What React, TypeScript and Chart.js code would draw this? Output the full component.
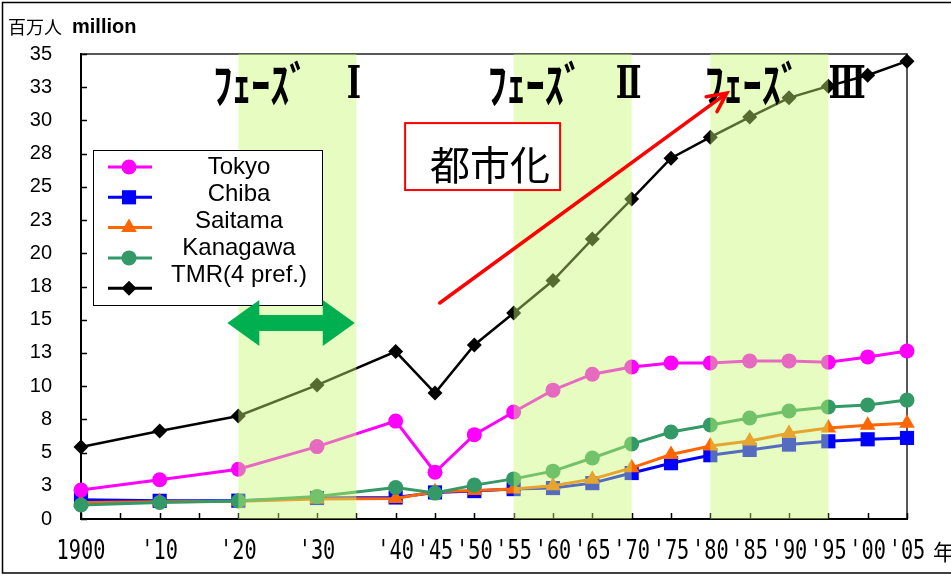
import React, { useEffect, useRef } from "react";
import { Chart, registerables } from "chart.js";

Chart.register(...registerables);

// Census years and population (millions)
const years = [1900, 1910, 1920, 1930, 1940, 1945, 1950, 1955, 1960, 1965, 1970, 1975, 1980, 1985, 1990, 1995, 2000, 2005];
const tokyo = [2.18, 2.95, 3.75, 5.45, 7.37, 3.52, 6.35, 8.05, 9.7, 10.9, 11.44, 11.74, 11.74, 11.9, 11.9, 11.8, 12.2, 12.64];
const chiba = [1.45, 1.37, 1.38, 1.58, 1.62, 2.0, 2.1, 2.25, 2.33, 2.7, 3.46, 4.2, 4.8, 5.2, 5.6, 5.85, 6.0, 6.1];
const saitama = [1.25, 1.3, 1.33, 1.5, 1.55, 2.05, 2.15, 2.25, 2.5, 3.0, 3.85, 4.85, 5.5, 5.87, 6.45, 6.85, 7.05, 7.2];
const kanagawa = [1.05, 1.24, 1.35, 1.7, 2.37, 1.95, 2.55, 3.02, 3.6, 4.59, 5.64, 6.55, 7.07, 7.6, 8.13, 8.43, 8.58, 8.95];
const tmr = [5.42, 6.62, 7.75, 10.08, 12.6, 9.48, 13.1, 15.5, 17.95, 21.07, 24.08, 27.16, 28.74, 30.25, 31.7, 32.58, 33.4, 34.46];

const seriesNames = ["Tokyo", "Chiba", "Saitama", "Kanagawa", "TMR(4 pref.)"];
const seriesColors = ["#FF00FF", "#0000FF", "#FF6600", "#339966", "#000000"];
const seriesMarkers = ["circle", "rect", "triangle", "circle", "rectRot"];
const markerRadius = [7.5, 10, 9, 7.5, 7.5];

// Year axis labels
const tickYears = [1900, 1910, 1920, 1930, 1940, 1945, 1950, 1955, 1960, 1965, 1970, 1975, 1980, 1985, 1990, 1995, 2000, 2005];
const tickLabels = ["1900", "'10", "'20", "'30", "'40", "'45", "'50", "'55", "'60", "'65", "'70", "'75", "'80", "'85", "'90", "'95", "'00", "'05"];

// Phase periods
const phaseFrom = [1920, 1955, 1980];
const phaseTo = [1935, 1970, 1995];
const phaseWordX = [1916.8, 1951.7, 1979.3];
const phaseNumeralX = [1934.7, 1969.6, 1997.4];
const phaseNumerals = ["Ⅰ", "Ⅱ", "Ⅲ"];

const CJK = '"Noto Sans CJK JP", "Noto Sans CJK SC", sans-serif';
const SANS = '"Liberation Sans", Arial, sans-serif';

function drawMarker(ctx: CanvasRenderingContext2D, style: string, x: number, y: number, r: number, color: string) {
  ctx.fillStyle = color;
  ctx.beginPath();
  if (style === "circle") {
    ctx.arc(x, y, r, 0, Math.PI * 2);
  } else if (style === "rect") {
    const s = r * Math.SQRT1_2;
    ctx.rect(x - s, y - s, 2 * s, 2 * s);
  } else if (style === "triangle") {
    for (let k = 0; k < 3; k++) {
      const a = (k * 2 * Math.PI) / 3;
      ctx.lineTo(x + Math.sin(a) * r, y - Math.cos(a) * r);
    }
  } else {
    ctx.moveTo(x, y - r);
    ctx.lineTo(x + r, y);
    ctx.lineTo(x, y + r);
    ctx.lineTo(x - r, y);
  }
  ctx.closePath();
  ctx.fill();
}

const decorations = {
  id: "decorations",
  beforeDatasetsDraw(chart: any) {
    const { ctx, chartArea: a, scales } = chart;
    const xs = scales.x;
    const ys = scales.y;
    ctx.save();
    // plot frame (top / right)
    ctx.strokeStyle = "#222";
    ctx.lineWidth = 1.5;
    ctx.beginPath();
    ctx.moveTo(a.left, a.top);
    ctx.lineTo(a.right, a.top);
    ctx.lineTo(a.right, a.bottom);
    ctx.stroke();
    // inward tick marks
    ctx.strokeStyle = "#000";
    ctx.lineWidth = 1.5;
    ctx.beginPath();
    xs.ticks.forEach((t: any) => {
      const px = Math.round(xs.getPixelForValue(t.value)) + 0.5;
      ctx.moveTo(px, a.bottom);
      ctx.lineTo(px, a.bottom - 6);
    });
    ys.ticks.forEach((t: any) => {
      const py = Math.round(ys.getPixelForValue(t.value)) + 0.5;
      ctx.moveTo(a.left, py);
      ctx.lineTo(a.left + 6, py);
    });
    ctx.stroke();
    ctx.restore();
  },
  afterDatasetsDraw(chart: any) {
    const { ctx, chartArea: a, scales } = chart;
    const xs = scales.x;
    const ys = scales.y;
    ctx.save();

    // translucent phase bands
    ctx.fillStyle = "rgba(197, 248, 109, 0.43)";
    phaseFrom.forEach((s, i) => {
      const x0 = xs.getPixelForValue(s);
      const x1 = xs.getPixelForValue(phaseTo[i]);
      ctx.fillRect(x0, a.top, x1 - x0, a.bottom - a.top);
    });

    // legend box
    const lx = a.left + 12;
    const ly = a.top + 96;
    const lw = 229;
    const lh = 155;
    ctx.fillStyle = "#fff";
    ctx.fillRect(lx, ly, lw, lh);
    ctx.strokeStyle = "#000";
    ctx.lineWidth = 1;
    ctx.strokeRect(lx + 0.5, ly + 0.5, lw, lh);
    seriesNames.forEach((name, i) => {
      const my = ly + 17 + i * 30.3;
      ctx.strokeStyle = seriesColors[i];
      ctx.lineWidth = 3;
      ctx.beginPath();
      ctx.moveTo(lx + 15, my);
      ctx.lineTo(lx + 59, my);
      ctx.stroke();
      drawMarker(ctx, seriesMarkers[i], lx + 36, my, markerRadius[i], seriesColors[i]);
      ctx.fillStyle = "#000";
      ctx.font = `24px ${SANS}`;
      ctx.textAlign = "center";
      ctx.textBaseline = "middle";
      ctx.fillText(name, lx + 146, ly + 17 + i * 27);
    });

    // phase labels
    ctx.fillStyle = "#000";
    ctx.textBaseline = "middle";
    const ly0 = ys.getPixelForValue(32.67);
    phaseWordX.forEach((yr, i) => {
      ctx.save();
      ctx.translate(xs.getPixelForValue(yr), ly0);
      ctx.scale(1, 1.28);
      ctx.font = `bold 38px ${CJK}`;
      ctx.textAlign = "left";
      ctx.fillText("ﾌｪｰｽﾞ", 0, 0);
      ctx.restore();
      ctx.save();
      ctx.translate(xs.getPixelForValue(phaseNumeralX[i]), ly0 + 1);
      ctx.scale(0.85, 1.25);
      ctx.font = `bold 36px "DejaVu Serif", serif`;
      ctx.textAlign = "center";
      ctx.fillText(phaseNumerals[i], 0, 0);
      ctx.restore();
    });

    // double-headed green arrow
    const gx0 = xs.getPixelForValue(1918.6);
    const gx1 = xs.getPixelForValue(1934.8);
    const gy = ys.getPixelForValue(14.75);
    const hl = 32, hh = 23, sh = 8;
    ctx.fillStyle = "#00B050";
    ctx.beginPath();
    ctx.moveTo(gx0, gy);
    ctx.lineTo(gx0 + hl, gy - hh);
    ctx.lineTo(gx0 + hl, gy - sh);
    ctx.lineTo(gx1 - hl, gy - sh);
    ctx.lineTo(gx1 - hl, gy - hh);
    ctx.lineTo(gx1, gy);
    ctx.lineTo(gx1 - hl, gy + hh);
    ctx.lineTo(gx1 - hl, gy + sh);
    ctx.lineTo(gx0 + hl, gy + sh);
    ctx.lineTo(gx0 + hl, gy + hh);
    ctx.closePath();
    ctx.fill();

    // urbanisation box
    const bx0 = xs.getPixelForValue(1941.2);
    const bx1 = xs.getPixelForValue(1960.9);
    const by0 = ys.getPixelForValue(29.8);
    const by1 = ys.getPixelForValue(24.76);
    ctx.fillStyle = "#fff";
    ctx.fillRect(bx0, by0, bx1 - bx0, by1 - by0);
    ctx.strokeStyle = "#FF0000";
    ctx.lineWidth = 2;
    ctx.strokeRect(bx0, by0, bx1 - bx0, by1 - by0);
    ctx.fillStyle = "#000";
    ctx.font = `40px ${CJK}`;
    ctx.textAlign = "center";
    ctx.textBaseline = "middle";
    ctx.fillText("都市化", xs.getPixelForValue(1952.0), ys.getPixelForValue(26.64));

    // red trend arrow
    const ax0 = xs.getPixelForValue(1945.6);
    const ay0 = ys.getPixelForValue(16.26);
    const ax1 = xs.getPixelForValue(1982.1);
    const ay1 = ys.getPixelForValue(32.06);
    const ang = Math.atan2(ay0 - ay1, ax0 - ax1);
    ctx.strokeStyle = "#FF0000";
    ctx.lineWidth = 3.5;
    ctx.lineCap = "round";
    ctx.beginPath();
    ctx.moveTo(ax0, ay0);
    ctx.lineTo(ax1, ay1);
    ctx.moveTo(ax1 + Math.cos(ang + 0.45) * 21, ay1 + Math.sin(ang + 0.45) * 21);
    ctx.lineTo(ax1, ay1);
    ctx.lineTo(ax1 + Math.cos(ang - 0.45) * 21, ay1 + Math.sin(ang - 0.45) * 21);
    ctx.stroke();

    ctx.restore();
  },
  afterDraw(chart: any) {
    const { ctx, chartArea: a, scales } = chart;
    const xs = scales.x;
    ctx.save();
    // year labels
    ctx.fillStyle = "#000";
    ctx.textBaseline = "middle";
    ctx.textAlign = "center";
    ctx.font = `26px "DejaVu Sans Mono", monospace`;
    tickYears.forEach((yr, i) => {
      const px = xs.getPixelForValue(yr);
      ctx.save();
      ctx.translate(px, a.bottom + 33);
      ctx.scale(0.78, 1.05);
      ctx.fillText(tickLabels[i], 0, 0);
      ctx.restore();
    });
    ctx.textAlign = "left";
    ctx.font = `22px ${CJK}`;
    ctx.fillText("年", a.right + 26, a.bottom + 33);

    // value axis title
    ctx.font = `18px ${CJK}`;
    ctx.fillText("百万人", 8, 27);
    ctx.font = `bold 20px ${SANS}`;
    ctx.fillText("million", 72, 27);

    // outer frame
    ctx.strokeStyle = "#000";
    ctx.lineWidth = 1.5;
    ctx.strokeRect(2.5, 2.5, 960, 570.5);
    ctx.restore();
  },
};

export default function App() {
  const ref = useRef<HTMLCanvasElement | null>(null);

  useEffect(() => {
    if (!ref.current) return;
    const pts = (vals: number[]) => vals.map((v, i) => ({ x: years[i], y: v }));
    const values = [tokyo, chiba, saitama, kanagawa, tmr];
    const drawOrder = [0, 3, 2, 1, 0];
    const chart = new Chart(ref.current, {
      type: "line",
      data: {
        datasets: seriesNames.map((name, i) => ({
          label: name,
          data: pts(values[i]),
          borderColor: seriesColors[i],
          backgroundColor: seriesColors[i],
          pointBackgroundColor: seriesColors[i],
          pointBorderColor: seriesColors[i],
          pointBorderWidth: 0,
          pointStyle: seriesMarkers[i] as any,
          pointRadius: markerRadius[i],
          borderWidth: i === 4 ? 2.5 : 3,
          tension: 0,
          fill: false,
          clip: false as any,
          order: drawOrder[i],
        })),
      },
      options: {
        animation: false,
        responsive: false,
        layout: { padding: { top: 54, right: 44, left: 0, bottom: 0 } },
        plugins: { legend: { display: false }, tooltip: { enabled: false } },
        scales: {
          x: {
            type: "linear",
            min: 1900,
            max: 2005,
            ticks: { display: false, stepSize: 5 },
            grid: { display: false, drawTicks: false },
            border: { display: true, color: "#000", width: 2 },
            afterFit: (s: any) => {
              s.height = 57;
            },
          },
          y: {
            min: 0,
            max: 35,
            ticks: {
              stepSize: 2.5,
              padding: 29,
              color: "#000",
              font: { family: SANS, size: 20 },
              callback: (v: any) => String(Math.round(Number(v))),
            },
            grid: { display: false, drawTicks: false },
            border: { display: true, color: "#000", width: 2 },
            afterFit: (s: any) => {
              s.width = 81;
            },
          },
        },
      },
      plugins: [decorations],
    });
    return () => chart.destroy();
  }, []);

  return (
    <div style={{ position: "fixed", left: 0, top: 0, width: 951, height: 576, background: "#fff" }}>
      <canvas ref={ref} width={951} height={576} style={{ width: 951, height: 576, display: "block" }} />
    </div>
  );
}
